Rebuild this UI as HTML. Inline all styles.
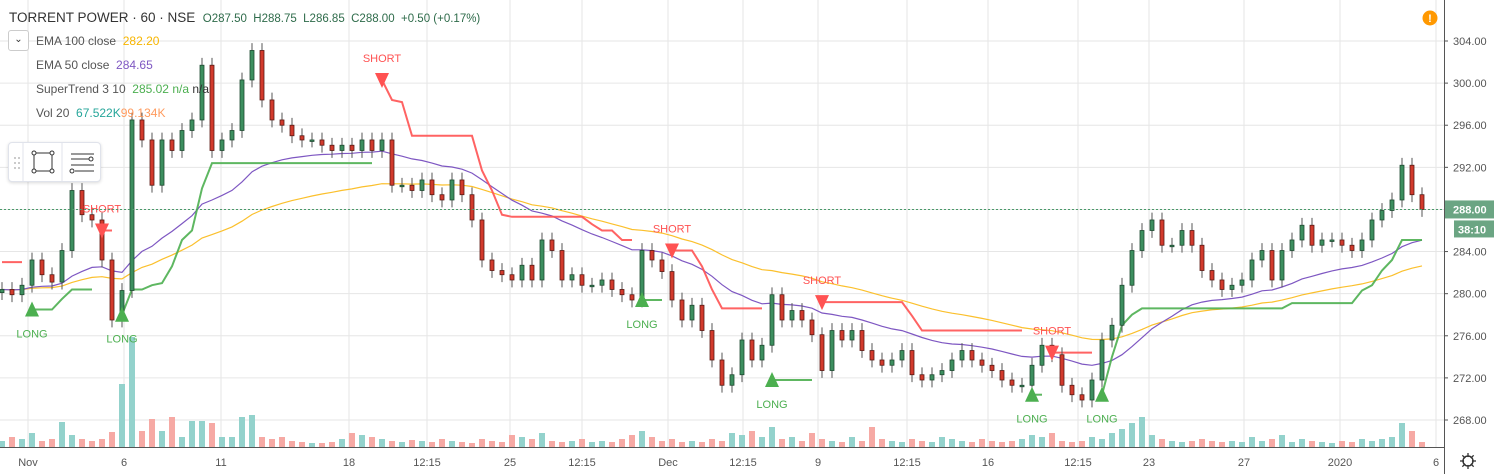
<!DOCTYPE html>
<html><head><meta charset="utf-8">
<style>
body{margin:0;background:#fff;font-family:"Liberation Sans",sans-serif;}
#wrap{position:relative;width:1494px;height:474px;overflow:hidden;}
svg{position:absolute;left:0;top:0;}
.leg{position:absolute;left:36px;font-size:12px;color:#555;white-space:nowrap;}
</style></head><body>
<div id="wrap">
<svg id="chart" width="1494" height="474"></svg>
<div class="leg" style="left:9px;top:10px;font-size:13.5px;color:#333">TORRENT POWER · 60 · NSE &nbsp;<span style="font-size:11.5px;color:#2e6b4a">O287.50 &nbsp;H288.75 &nbsp;L286.85 &nbsp;C288.00 &nbsp;+0.50 (+0.17%)</span></div>
<div style="position:absolute;left:8px;top:30px;width:19px;height:19px;border:1px solid #ccc;border-radius:3px;font-size:10px;text-align:center;line-height:18px;color:#333;background:#fff">&#8964;</div>
<div class="leg" style="top:34px">EMA 100 close &nbsp;<span style="color:#f7b500">282.20</span></div>
<div class="leg" style="top:58px">EMA 50 close &nbsp;<span style="color:#7e57c2">284.65</span></div>
<div class="leg" style="top:82px">SuperTrend 3 10 &nbsp;<span style="color:#4caf50">285.02 n/a</span> <span style="color:#333">n/a</span></div>
<div class="leg" style="top:106px">Vol 20 &nbsp;<span style="color:#26a69a">67.522K</span><span style="color:#ff9b5e">99.134K</span></div>
<div style="position:absolute;left:8px;top:142px;width:91px;height:38px;background:#fff;border:1px solid #e0e3eb;border-radius:4px;box-shadow:0 1px 3px rgba(0,0,0,.15)">
 <svg width="91" height="38" style="position:absolute;left:0;top:0">
  <g fill="#bbb"><circle cx="6" cy="15" r="1"/><circle cx="10" cy="15" r="1"/><circle cx="6" cy="20" r="1"/><circle cx="10" cy="20" r="1"/><circle cx="6" cy="25" r="1"/><circle cx="10" cy="25" r="1"/></g>
  <line x1="14" y1="0" x2="14" y2="38" stroke="#e0e3eb"/><line x1="53" y1="0" x2="53" y2="38" stroke="#e0e3eb"/>
  <rect x="25" y="10" width="18" height="18" fill="none" stroke="#333"/>
  <g fill="#fff" stroke="#333"><circle cx="25" cy="10" r="2"/><circle cx="43" cy="10" r="2"/><circle cx="25" cy="28" r="2"/><circle cx="43" cy="28" r="2"/></g>
  <g stroke="#333"><line x1="62" y1="11" x2="85" y2="11"/><line x1="62" y1="16" x2="80" y2="16"/><line x1="62" y1="22" x2="85" y2="22"/><line x1="66" y1="28" x2="85" y2="28"/></g>
  <circle cx="82" cy="16" r="2" fill="#fff" stroke="#333"/><circle cx="63" cy="28" r="2" fill="#fff" stroke="#333"/>
 </svg>
</div>
</div>
<script>
const closes=[280.4,279.9,280.8,283.2,281.8,281.1,284.1,289.8,287.5,287.0,283.2,277.5,280.3,296.5,294.6,290.3,294.6,293.6,295.5,296.5,301.7,293.6,294.6,295.5,300.3,303.1,298.4,296.5,296.0,295.0,294.6,294.6,294.1,293.6,294.1,293.6,294.6,293.6,294.6,290.3,290.3,289.8,290.8,289.4,288.9,290.8,289.4,287.0,283.2,282.2,281.8,281.3,282.7,281.3,285.1,284.1,281.3,281.8,280.8,280.8,281.3,280.4,279.9,279.4,284.1,283.2,282.1,279.4,277.5,278.9,276.5,273.7,271.3,272.3,275.6,273.7,275.1,279.9,277.5,278.4,277.5,276.1,272.7,276.5,275.6,276.5,274.6,273.7,273.2,273.7,274.6,272.3,271.8,272.3,272.7,273.7,274.6,273.7,273.2,272.7,271.8,271.3,271.3,273.2,275.1,274.2,271.3,270.4,269.9,271.8,275.6,277.0,280.8,284.1,286.0,287.0,284.6,284.6,286.0,284.6,282.2,281.3,280.4,280.8,281.3,283.2,284.1,281.3,284.1,285.1,286.5,284.6,285.1,285.1,284.6,284.1,285.1,287.0,287.9,288.9,292.2,289.4,288.0];
const volumes=[6,10,8,14,6,8,25,12,8,6,8,15,63,110,16,28,16,30,10,26,26,24,10,10,30,32,10,8,10,6,5,4,4,5,8,14,12,10,8,6,5,7,6,5,8,6,5,4,8,6,5,12,10,8,14,6,5,6,8,5,6,5,8,12,16,10,6,8,5,6,5,8,6,14,12,16,10,20,8,10,6,14,8,6,5,10,6,20,8,6,5,8,6,5,10,8,6,5,8,6,5,6,8,12,10,14,6,5,6,10,8,14,18,24,30,12,8,6,5,6,8,6,5,6,5,10,6,8,12,5,8,6,5,4,6,5,8,6,8,10,24,16,5];
const stValues=[283.0,283.0,283.0,278.5,278.5,278.5,279.5,280.4,280.4,280.4,286.0,286.0,278.0,280.4,280.4,280.8,281.0,282.6,285.1,286.0,290.0,292.4,292.4,292.4,292.4,292.4,292.4,292.4,292.4,292.4,292.4,292.4,292.4,292.4,292.4,292.4,292.4,292.4,300.3,298.4,298.2,295.0,295.0,295.0,295.0,295.0,295.0,295.0,291.7,289.8,287.5,287.3,287.3,287.3,287.3,287.3,287.3,287.3,287.3,286.6,286.0,286.0,285.1,285.1,279.4,279.4,279.4,284.1,284.1,284.1,282.6,280.4,278.6,278.6,278.6,278.6,278.6,271.8,271.8,271.8,271.8,271.8,279.2,279.2,279.2,279.2,279.2,279.2,279.2,279.2,279.2,277.9,276.5,276.5,276.5,276.5,276.5,276.5,276.5,276.5,276.5,276.5,276.5,270.4,270.4,274.4,274.4,274.4,274.4,274.4,270.4,274.0,277.0,278.0,278.6,278.6,278.6,278.6,278.6,278.6,278.6,278.6,278.6,278.6,278.6,278.6,278.6,278.6,278.6,279.1,279.1,279.1,279.1,279.1,279.1,279.1,280.3,280.8,282.2,283.2,285.1,285.1,285.1];
const stDir=[-1,-1,-1,1,1,1,1,1,1,1,-1,-1,1,1,1,1,1,1,1,1,1,1,1,1,1,1,1,1,1,1,1,1,1,1,1,1,1,1,-1,-1,-1,-1,-1,-1,-1,-1,-1,-1,-1,-1,-1,-1,-1,-1,-1,-1,-1,-1,-1,-1,-1,-1,-1,-1,1,1,1,-1,-1,-1,-1,-1,-1,-1,-1,-1,-1,1,1,1,1,1,-1,-1,-1,-1,-1,-1,-1,-1,-1,-1,-1,-1,-1,-1,-1,-1,-1,-1,-1,-1,-1,1,1,-1,-1,-1,-1,-1,1,1,1,1,1,1,1,1,1,1,1,1,1,1,1,1,1,1,1,1,1,1,1,1,1,1,1,1,1,1,1,1,1];
const priceTicks=[304,300,296,292,288,284,280,276,272,268];
const timeLabels=["Nov","6","11","18","12:15","25","12:15","Dec","12:15","9","12:15","16","12:15","23","27","2020","6"];
const timeIdx=[2.6,12.2,21.9,34.7,42.5,50.8,58,66.6,74.1,81.6,90.5,98.6,107.6,114.7,124.2,133.8,143.4];
const lastPrice=288.0;

const NS="http://www.w3.org/2000/svg";
const svg=document.getElementById('chart');
const PL=0,PR=1444,AXB=447;
function y(p){return 41+(304-p)*10.528;}
function x(i){return 2+i*10;}
function el(t,a,parent){const e=document.createElementNS(NS,t);for(const k in a)e.setAttribute(k,a[k]);(parent||svg).appendChild(e);return e;}

const grid=el('g',{});
priceTicks.forEach(p=>{el('line',{x1:0,x2:PR,y1:y(p),y2:y(p),stroke:'#e6e6e6'},grid);});
timeIdx.forEach(t=>{el('line',{x1:x(t),x2:x(t),y1:0,y2:AXB,stroke:'#e6e6e6'},grid);});

const vg=el('g',{});
volumes.forEach((v,i)=>{const o=i?closes[i-1]:closes[0];const up=closes[i]>=o;
 const r=el('rect',{x:x(i)-3,y:AXB-v,width:6,height:v,fill:up?'#93d2cc':'#f6a9a4'},vg);
 });

function ema(n){const k=2/(n+1);let e=closes[0];return closes.map(c=>e=c*k+e*(1-k));}
function linePath(vals){return vals.map((v,i)=>(i?'L':'M')+x(i)+' '+y(v).toFixed(1)).join(' ');}
const e100=el('path',{d:linePath(ema(50)),fill:'none',stroke:'#fbc02d',"stroke-width":1.2});

const e50=el('path',{d:linePath(ema(25)),fill:'none',stroke:'#7e57c2',"stroke-width":1.2});


const sg=el('g',{});
let seg=[0];
for(let i=1;i<=stValues.length;i++){
 if(i==stValues.length||stDir[i]!=stDir[i-1]){
  const s=seg[0],e=i-1;let d='';
  for(let j=s;j<=e;j++)d+=(j==s?'M':'L')+x(j)+' '+y(stValues[j]).toFixed(1)+' ';
  if(s==e)d+='L'+(x(s)+5)+' '+y(stValues[s]).toFixed(1);
  const p=el('path',{d:d,fill:'none',stroke:stDir[s]>0?'#4caf50':'#ff5252',"stroke-width":2,"stroke-opacity":0.9},sg);
  
  seg=[i];
 }
}

const cg=el('g',{});
closes.forEach((c,i)=>{const o=i?closes[i-1]:closes[0]-0.3;const up=c>=o;
 const hi=Math.max(o,c)+0.7,lo=Math.min(o,c)-0.7;
 el('line',{x1:x(i),x2:x(i),y1:y(hi),y2:y(lo),stroke:'#555'},cg);
 const top=y(Math.max(o,c)),h=Math.max(1.5,y(Math.min(o,c))-top);
 const r=el('rect',{x:x(i)-2,y:top,width:4,height:h,fill:up?'#3d8f5f':'#d23a2c',stroke:up?'#1d4a30':'#5a1a14',"stroke-width":0.8},cg);
 });

const mg=el('g',{});
for(let i=1;i<stDir.length;i++){if(stDir[i]==stDir[i-1])continue;
 const X=x(i),Y=y(stValues[i]);
 if(stDir[i]>0){el('polygon',{points:`${X},${Y-8} ${X-7},${Y+7} ${X+7},${Y+7}`,fill:'#4caf50'},mg);
  const t=el('text',{x:X,y:Y+28,"text-anchor":'middle',"font-size":11,fill:'#4caf50'},mg);t.textContent='LONG';
  }
 else{el('polygon',{points:`${X},${Y+8} ${X-7},${Y-7} ${X+7},${Y-7}`,fill:'#ff5252'},mg);
  const t=el('text',{x:X,y:Y-18,"text-anchor":'middle',"font-size":11,fill:'#ff5252'},mg);t.textContent='SHORT';
  }
}

el('line',{x1:0,x2:PR,y1:y(lastPrice),y2:y(lastPrice),stroke:'#4a9a6a',"stroke-dasharray":'2 2'});

el('rect',{x:PR,y:0,width:50,height:474,fill:'#fff'});
el('rect',{x:0,y:AXB,width:1494,height:27,fill:'#fff'});
el('line',{x1:PR+0.5,x2:PR+0.5,y1:0,y2:474,stroke:'#555'});
el('line',{x1:0,x2:PR,y1:AXB+0.5,y2:AXB+0.5,stroke:'#555'});
priceTicks.forEach(p=>{el('line',{x1:PR,x2:PR+4,y1:y(p),y2:y(p),stroke:'#555'});
 const t=el('text',{x:PR+9,y:y(p)+4,"font-size":11,fill:'#555'});t.textContent=p.toFixed(2);
 });
timeLabels.forEach((lb,k)=>{const t=el('text',{x:x(timeIdx[k]),y:466,"text-anchor":'middle',"font-size":11,fill:'#555'});t.textContent=lb;
 });
const lp=el('rect',{x:PR+1,y:y(lastPrice)-9,width:49,height:18,fill:'#6ba583'});

let t=el('text',{x:PR+9,y:y(lastPrice)+4,"font-size":11,fill:'#fff',"font-weight":'bold'});t.textContent=lastPrice.toFixed(2);
el('rect',{x:PR+10,y:y(lastPrice)+11,width:40,height:17,fill:'#6ba583'});
t=el('text',{x:PR+14,y:y(lastPrice)+24,"font-size":11,fill:'#fff',"font-weight":'bold'});t.textContent='38:10';
const warn=el('circle',{cx:1430,cy:18,r:7.5,fill:'#ff9800'});

t=el('text',{x:1430,y:22,"text-anchor":'middle',"font-size":11,"font-weight":'bold',fill:'#fff'});t.textContent='!';
const gear=el('g',{});
el('circle',{cx:1468,cy:461,r:5,fill:'none',stroke:'#333',"stroke-width":1.3},gear);
[0,45,90,135].forEach(a=>{el('line',{x1:1468-8,x2:1468+8,y1:461,y2:461,stroke:'#333',"stroke-width":1.3,transform:`rotate(${a} 1468 461)`},gear);});
el('circle',{cx:1468,cy:461,r:4,fill:'#fff'},gear);
el('circle',{cx:1468,cy:461,r:5,fill:'none',stroke:'#333',"stroke-width":1.3},gear);
</script>
</body></html>
